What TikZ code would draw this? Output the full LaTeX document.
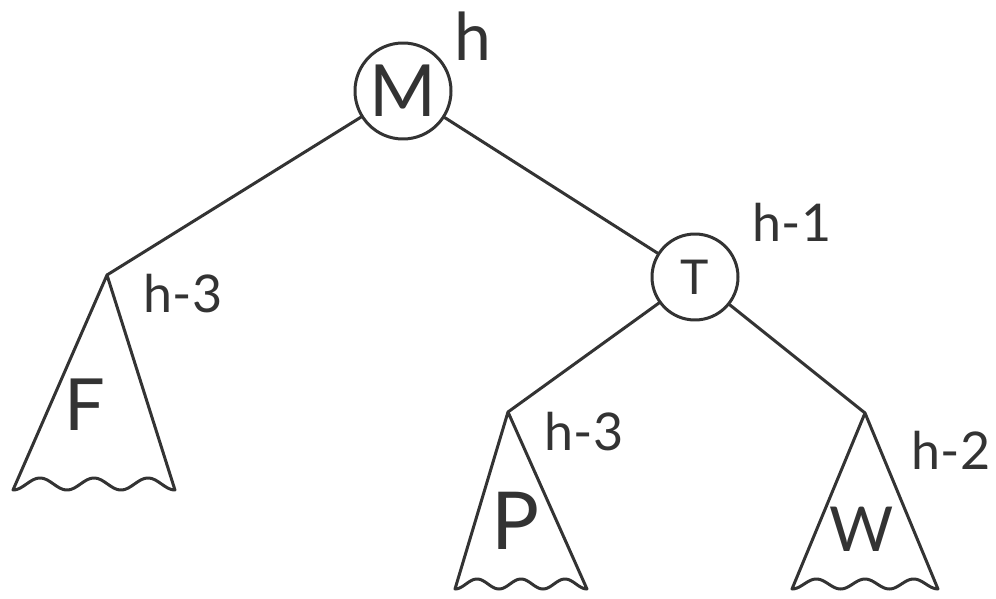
\documentclass[tikz,border=0pt]{standalone}
\usepackage{fontspec}
\setmainfont{Lato}
\definecolor{pen}{HTML}{333333}
\tikzset{
  ink/.style={draw=pen, line width=3pt, line cap=round, line join=round},
  vertex/.style={ink, circle, inner sep=0pt, text=pen},
  lbl/.style={text=pen, inner sep=0pt, font=\fontsize{52}{56}\selectfont},
  sub/.style={text=pen, inner sep=0pt},
}
% subtree outline: apex, left corner, wavy base with three crests, back to apex
% #1 apex x, #2 apex y, #3 left x, #4 right x, #5 base y, #6 wave amplitude
\newcommand{\subtree}[6]{%
  \draw[ink] (#1,#2) -- (#3,#5)
    -- plot[domain=0:1, samples=91] ({#3+(#4-#3)*\x}, {#5-#6+#6*cos(1080*\x)})
    -- cycle;}
\begin{document}
\begin{tikzpicture}[x=1pt, y=-1pt]
  \useasboundingbox (0,0) rectangle (996,599);

  % internal nodes
  \node[vertex, minimum size=96pt, font=\fontsize{72}{76}\selectfont] (M) at (403,91) {M};
  \node[vertex, minimum size=86pt, font=\fontsize{48}{52}\selectfont] (T) at (695,277) {T};

  % subtree apexes
  \coordinate (Fa) at (107,275);
  \coordinate (Pa) at (508,412);
  \coordinate (Wa) at (865,413);

  % subtrees with wavy bottoms
  \subtree{107}{275}{13}{175}{490}{6}
  \subtree{508}{412}{455}{587}{589}{5}
  \subtree{865}{413}{792}{938}{589}{5}

  % edges
  \draw[ink] (M) -- (Fa);
  \draw[ink] (M) -- (T);
  \draw[ink] (T) -- (Pa);
  \draw[ink] (T) -- (Wa);

  % subtree names
  \node[sub, font=\fontsize{72}{76}\selectfont] (F) at (85,405) {F};
  \node[sub, font=\fontsize{80}{84}\selectfont] (P) at (516,521) {P};
  \node[sub, font=\fontsize{62}{66}\selectfont] (W) at (862,529) {W};

  % heights
  \node[lbl, font=\fontsize{66}{70}\selectfont] (hM) at (473,36) {h};
  \node[lbl] (hT) at (792,222) {h-1};
  \node[lbl] (hF) at (183,294) {h-3};
  \node[lbl] (hP) at (584,432) {h-3};
  \node[lbl] (hW) at (951,450) {h-2};
\end{tikzpicture}
\end{document}
